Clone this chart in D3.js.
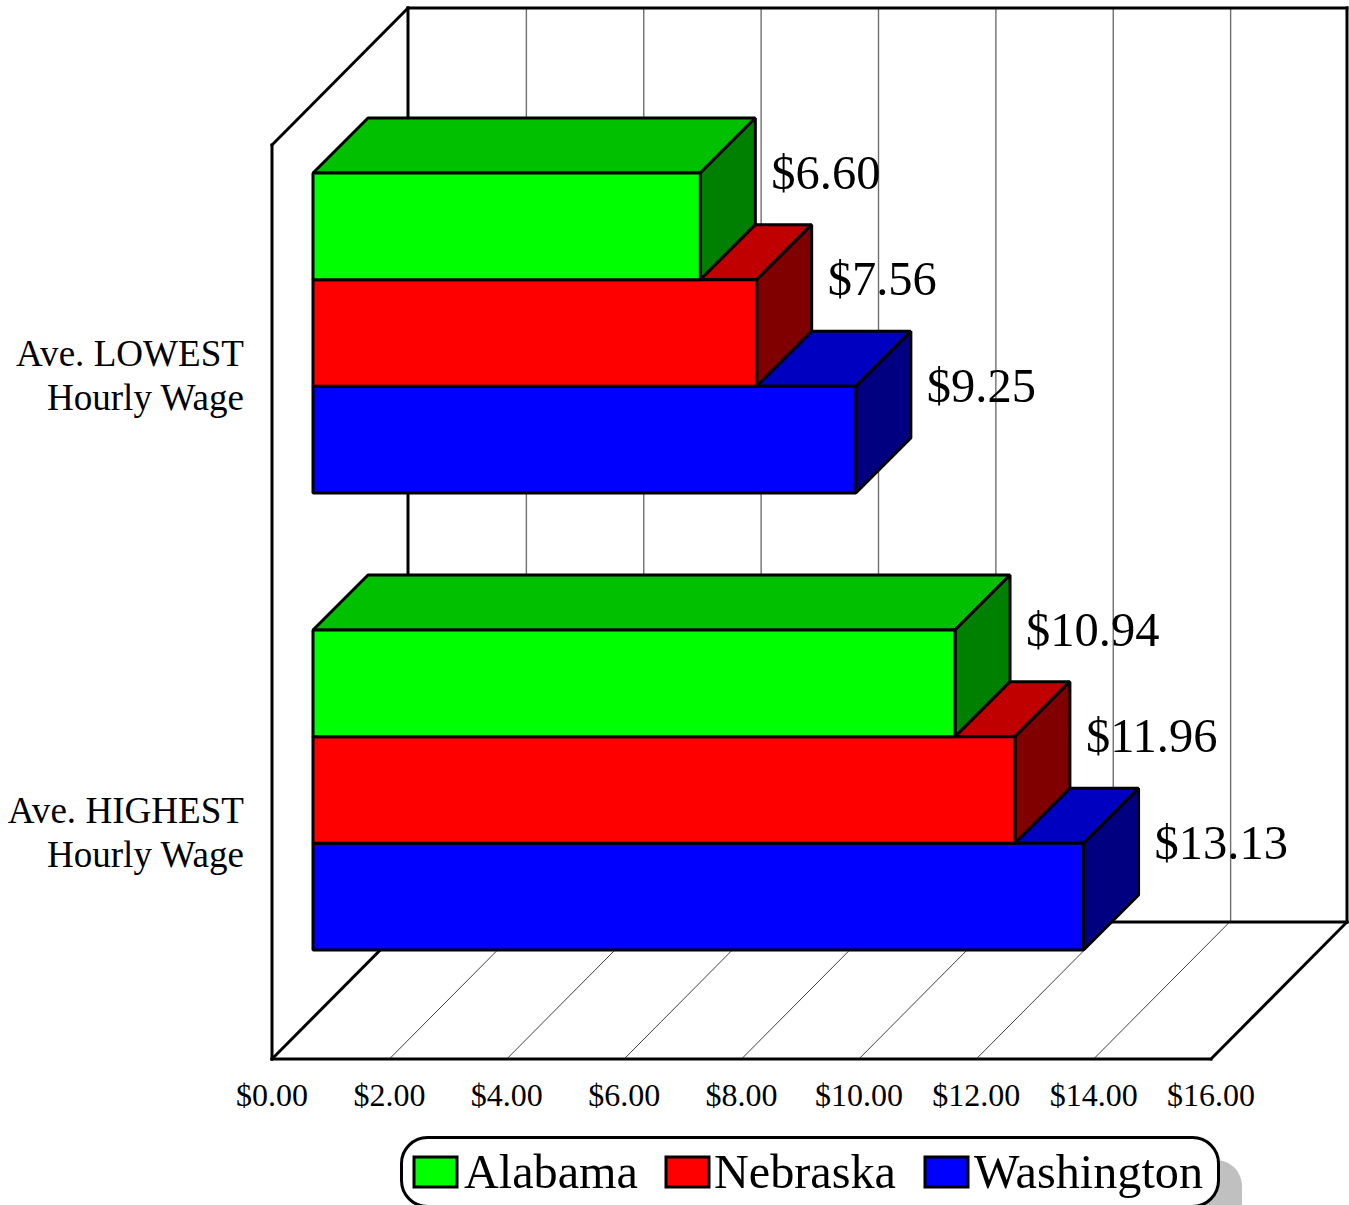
<!DOCTYPE html>
<html>
<head>
<meta charset="utf-8">
<title>Average hourly wages</title>
<script src="https://cdn.jsdelivr.net/npm/d3@7/dist/d3.min.js"></script>
<style>
  html, body { margin: 0; padding: 0; background: #fff; overflow: hidden; }
  svg { display: block; }
  text { font-family: "Liberation Serif", serif; fill: #000; }
</style>
</head>
<body>
<script>
// Wage figures, one list per state, ordered as the two categories.
const categories = [["Ave. LOWEST", "Hourly Wage"], ["Ave. HIGHEST", "Hourly Wage"]];
const seriesNames = ["Alabama", "Nebraska", "Washington"];
const alabama = [6.60, 10.94];
const nebraska = [7.56, 11.96];
const washington = [9.25, 13.13];
const seriesValues = [alabama, nebraska, washington];
const tickValues = [0, 2, 4, 6, 8, 10, 12, 14, 16];
const frontColors = ["#00ff00", "#ff0000", "#0000ff"];
const topColors = ["#00c000", "#c00000", "#0000c0"];
const sideColors = ["#008000", "#800000", "#000080"];
const legendTextX = [464, 714, 974];
const legendSwatchX = [414, 666, 925];

const width = 1349, height = 1205;
const svg = d3.select("body").append("svg").attr("width", width).attr("height", height);

// Front plane of the plot box and the depth vector of the whole box.
const plot = { left: 272, right: 1211, top: 145, bottom: 1059, dx: 136, dy: -137 };
// Where the bars sit inside the box, and how deep each one is.
const barShift = { x: 41, y: -40.5 }, barDepth = { x: 55, y: -55 };

const x = d3.scaleLinear().domain([0, 16]).range([plot.left, plot.right]);
const money = d3.format("$.2f");

const yCategory = d3.scaleBand()
  .domain(d3.range(categories.length))
  .range([plot.top + barShift.y, plot.bottom + barShift.y])
  .paddingInner(0.3).paddingOuter(0.15);
const ySeries = d3.scaleBand()
  .domain(d3.range(seriesNames.length))
  .range([0, yCategory.bandwidth()]);

const path = pts => "M" + pts.map(p => p.join(",")).join("L") + "Z";

// Walls and floor of the box.
const walls = svg.append("g");
tickValues.slice(1, -1).forEach(t => {
  const px = x(t);
  walls.append("line")
    .attr("x1", px + plot.dx + 1).attr("x2", px + plot.dx + 1)
    .attr("y1", plot.top + plot.dy).attr("y2", plot.bottom + plot.dy)
    .attr("stroke", "#707070").attr("stroke-width", 1.4);
});
tickValues.slice(1, -1).forEach(t => {
  const px = x(t);
  walls.append("line")
    .attr("x1", px).attr("x2", px + plot.dx)
    .attr("y1", plot.bottom).attr("y2", plot.bottom + plot.dy)
    .attr("stroke", "#404040").attr("stroke-width", 1);
});
const heavy = [
  [[plot.left + plot.dx, plot.top + plot.dy], [plot.right + plot.dx, plot.top + plot.dy]],
  [[plot.right + plot.dx, plot.top + plot.dy], [plot.right + plot.dx, plot.bottom + plot.dy]],
  [[plot.left + plot.dx, plot.top + plot.dy], [plot.left + plot.dx, plot.bottom + plot.dy]],
  [[plot.left + plot.dx, plot.bottom + plot.dy], [plot.right + plot.dx, plot.bottom + plot.dy]],
  [[plot.left, plot.top], [plot.left, plot.bottom]],
  [[plot.left, plot.bottom], [plot.right, plot.bottom]],
  [[plot.right, plot.bottom], [plot.right + plot.dx, plot.bottom + plot.dy]],
  [[plot.left, plot.bottom], [plot.left + plot.dx, plot.bottom + plot.dy]],
  [[plot.left, plot.top], [plot.left + plot.dx, plot.top + plot.dy]]
];
heavy.forEach(([a, b]) => {
  walls.append("line")
    .attr("x1", a[0]).attr("y1", a[1]).attr("x2", b[0]).attr("y2", b[1])
    .attr("stroke", "#000").attr("stroke-width", 3).attr("stroke-linecap", "square");
});

// Bars: the last series goes first so nearer faces overlap correctly.
const bars = svg.append("g").attr("stroke", "#000").attr("stroke-width", 3).attr("stroke-linejoin", "bevel");
categories.forEach((_, c) => {
  d3.range(seriesNames.length).reverse().forEach(s => {
    const v = seriesValues[s][c];
    const x0 = x(0) + barShift.x, x1 = x(v) + barShift.x;
    const y0 = yCategory(c) + ySeries(s), y1 = y0 + ySeries.bandwidth();
    const { x: dx, y: dy } = barDepth;
    bars.append("path").attr("fill", topColors[s])
      .attr("d", path([[x0, y0], [x0 + dx, y0 + dy], [x1 + dx, y0 + dy], [x1, y0]]));
    bars.append("path").attr("fill", sideColors[s])
      .attr("d", path([[x1, y0], [x1 + dx, y0 + dy], [x1 + dx, y1 + dy], [x1, y1]]));
    bars.append("path").attr("fill", frontColors[s])
      .attr("d", path([[x0, y0], [x1, y0], [x1, y1], [x0, y1]]));
  });
});

// Value labels beside each bar.
categories.forEach((_, c) => {
  seriesNames.forEach((_, s) => {
    const v = seriesValues[s][c];
    svg.append("text")
      .attr("x", x(v) + barShift.x + 71)
      .attr("y", yCategory(c) + ySeries(s) + 15.5)
      .attr("font-size", 48.5)
      .text(money(v));
  });
});

// Category labels, two right-aligned lines each.
categories.forEach((lines, c) => {
  const base = yCategory(c) + yCategory.bandwidth() / 2 + 32.5;
  lines.forEach((line, i) => {
    svg.append("text")
      .attr("x", 244).attr("y", base + i * 44)
      .attr("text-anchor", "end").attr("font-size", 37.1)
      .text(line);
  });
});

// Value axis labels along the front of the floor.
tickValues.forEach(t => {
  svg.append("text")
    .attr("x", x(t)).attr("y", 1106)
    .attr("text-anchor", "middle").attr("font-size", 32)
    .text(money(t));
});

// Legend with its drop shadow; the shadow runs off the bottom edge.
const legend = svg.append("g");
legend.append("rect")
  .attr("x", 424).attr("y", 1160).attr("width", 818).attr("height", 70)
  .attr("rx", 26).attr("ry", 26).attr("fill", "#c0c0c0");
legend.append("rect")
  .attr("x", 401.5).attr("y", 1137.5).attr("width", 817).attr("height", 69)
  .attr("rx", 26).attr("ry", 26).attr("fill", "#fff").attr("stroke", "#000").attr("stroke-width", 3);
seriesNames.forEach((name, s) => {
  legend.append("rect")
    .attr("x", legendSwatchX[s]).attr("y", 1157).attr("width", 43).attr("height", 30)
    .attr("fill", frontColors[s]).attr("stroke", "#000").attr("stroke-width", 3);
  legend.append("text")
    .attr("x", legendTextX[s]).attr("y", 1188)
    .attr("font-size", 48.2).text(name);
});
</script>
</body>
</html>
